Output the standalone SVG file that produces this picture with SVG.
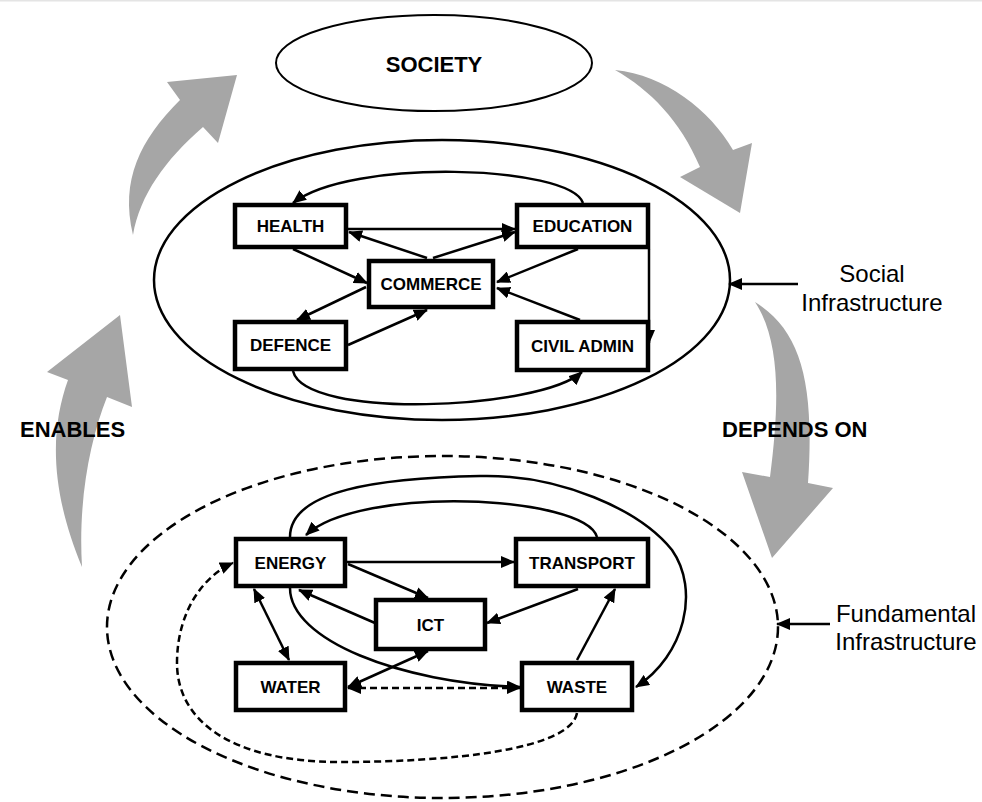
<svg xmlns="http://www.w3.org/2000/svg" width="982" height="802" viewBox="0 0 982 802">
<style>
.box{fill:#fff;stroke:#000;stroke-width:4.5}
.lbl{font-family:"Liberation Sans",Arial,sans-serif;font-weight:bold;font-size:17px;text-anchor:middle;fill:#000}
.big{font-family:"Liberation Sans",Arial,sans-serif;font-weight:bold;font-size:22px;fill:#000}
.side{font-family:"Liberation Sans",Arial,sans-serif;font-size:24px;text-anchor:middle;fill:#000}
.c{fill:none;stroke:#000;stroke-width:2.5;marker-end:url(#ah)}
.d{marker-start:url(#ah)}
.dash{stroke-dasharray:7 4}
.garrow{fill:#a6a6a6;stroke:none}
</style>
<defs>
<marker id="ah" viewBox="0 0 14 12" markerWidth="14" markerHeight="12" refX="13" refY="6" orient="auto-start-reverse" markerUnits="userSpaceOnUse">
<path d="M0,0 L14,6 L0,12 z" fill="#000"/>
</marker>
</defs>
<rect x="0" y="0" width="982" height="1.5" fill="#e4e4e4"/>

<g id="big-arrows">
<path class="garrow" d="M133 235 C120 180 140 140 180 100 L167 82 L237 75 L218 143 L203 127 C165 160 140 195 133 235 Z"/>
<path class="garrow" d="M82 567 C50 490 50 430 68 380 L47 372 L120 315 L132 407 L107 397 C90 440 78 500 82 567 Z"/>
<path class="garrow" d="M615 70 C665 75 710 110 733 150 L752 143 L740 213 L680 177 L700 167 C680 120 650 90 615 70 Z"/>
<path class="garrow" d="M755 302 C800 330 815 380 808 483 L833 488 L772 558 L742 472 L770 477 C780 400 780 340 755 302 Z"/>
</g>

<g id="society">
<ellipse cx="434" cy="63" rx="158" ry="48" fill="#fff" stroke="#000" stroke-width="2"/>
<text class="big" x="434" y="72" text-anchor="middle">SOCIETY</text>
</g>

<g id="social-infrastructure">
<ellipse cx="442" cy="280" rx="288" ry="140" fill="none" stroke="#000" stroke-width="2.5"/>
</g>
<g id="fundamental-infrastructure">
<ellipse cx="442.5" cy="627" rx="335.5" ry="171" fill="none" stroke="#000" stroke-width="2.5" stroke-dasharray="11 6"/>
</g>

<g id="labels">
<text class="big" x="20" y="437">ENABLES</text>
<text class="big" x="722" y="437">DEPENDS ON</text>
<text class="side" x="872" y="282">Social</text>
<text class="side" x="872" y="311">Infrastructure</text>
<text class="side" x="906" y="622">Fundamental</text>
<text class="side" x="906" y="650">Infrastructure</text>
</g>

<g id="connectors">
<!-- social -->
<path class="c" d="M583 203 C570 165 350 158 293 203"/>
<path class="c" d="M348 229 L515 229"/>
<path class="c" d="M427 258 L349 232"/>
<path class="c" d="M433 258 L515 232"/>
<path class="c" d="M293 249 L367 283"/>
<path class="c" d="M366 287 L297 320"/>
<path class="c" d="M348 345 L427 310"/>
<path class="c" d="M578 249 L497 282"/>
<path class="c" d="M580 320 L497 288"/>
<path class="c" d="M649 249 L649 343"/>
<path class="c" d="M293 371 C305 420 540 410 582 372"/>
<!-- labels pointers -->
<path class="c" d="M798 284 L729 284"/>
<path class="c" d="M830 624 L777 624"/>
<!-- fundamental -->
<path class="c" d="M290 537 C290 490 380 478 480 476 C560 474 640 510 672 550 C700 590 685 655 636 687"/>
<path class="c" d="M597 537 C585 495 360 485 306 535"/>
<path class="c" d="M347 562 L514 562"/>
<path class="c" d="M348 564 L428 598"/>
<path class="c" d="M375 623 L299 590"/>
<path class="c" d="M578 589 L487 623"/>
<path class="c d" d="M254 589 L289 660"/>
<path class="c d" d="M348 687 L428 651"/>
<path class="c" d="M290 588 C290 640 400 683 520 687"/>
<path class="c d dash" d="M348 688 L520 688"/>
<path class="c" d="M577 660 L615 589"/>
<path class="c dash" d="M577 713 C570 750 450 762 340 762 C230 762 177 720 177 663 C177 610 205 575 233 563"/>
</g>

<g id="health"><rect class="box" x="235" y="205" width="111" height="42"/><text class="lbl" x="290.5" y="232">HEALTH</text></g>
<g id="education"><rect class="box" x="517" y="205" width="131" height="42"/><text class="lbl" x="582.5" y="232">EDUCATION</text></g>
<g id="commerce"><rect class="box" x="369" y="261" width="124" height="46"/><text class="lbl" x="431" y="290">COMMERCE</text></g>
<g id="defence"><rect class="box" x="235" y="322" width="111" height="47"/><text class="lbl" x="290.5" y="351">DEFENCE</text></g>
<g id="civil-admin"><rect class="box" x="517" y="322" width="131" height="48"/><text class="lbl" x="582.5" y="352">CIVIL ADMIN</text></g>

<g id="energy"><rect class="box" x="236" y="539" width="109" height="47"/><text class="lbl" x="290.5" y="569">ENERGY</text></g>
<g id="transport"><rect class="box" x="516" y="539" width="132" height="47"/><text class="lbl" x="582" y="569">TRANSPORT</text></g>
<g id="ict"><rect class="box" x="376" y="600" width="109" height="49"/><text class="lbl" x="430.5" y="631">ICT</text></g>
<g id="water"><rect class="box" x="236" y="663" width="109" height="47"/><text class="lbl" x="290.5" y="693">WATER</text></g>
<g id="waste"><rect class="box" x="522" y="663" width="110" height="47"/><text class="lbl" x="577" y="693">WASTE</text></g>
</svg>
